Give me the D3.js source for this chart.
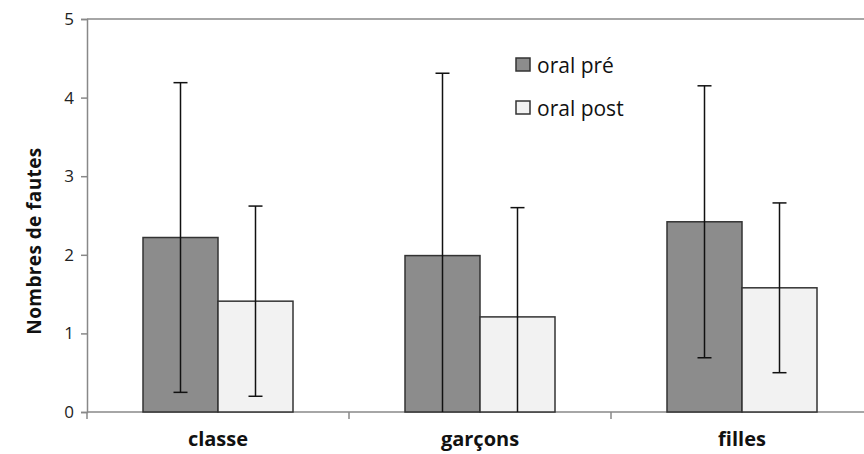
<!DOCTYPE html>
<html>
<head>
<meta charset="utf-8">
<script src="https://cdn.jsdelivr.net/npm/d3@7"></script>
<style>
  body { margin: 0; background: #fff; }
  svg { display: block; font-family: "Open Sans", sans-serif; }
</style>
</head>
<body>
<svg id="chart" width="864" height="454"></svg>
<script>
const categories = ["classe", "garçons", "filles"];
const seriesNames = ["oral pré", "oral post"];
const preValues = [2.22, 1.99, 2.42];
const postValues = [1.41, 1.21, 1.58];
const preErrors = [1.97, 2.32, 1.73];
const postErrors = [1.21, 1.39, 1.08];
const yTicks = [0, 1, 2, 3, 4, 5];

const colors = ["#8c8c8c", "#f2f2f2"];

const margin = { top: 19, left: 87 };
const plotW = 786, plotH = 393;

const svg = d3.select("#chart");
const g = svg.append("g").attr("transform", `translate(${margin.left},${margin.top})`);

const x = d3.scaleBand().domain(categories).range([0, plotW]);
const y = d3.scaleLinear().domain([0, 5]).range([plotH, 0]);
const barW = 75;

// frame top line
g.append("line")
  .attr("x1", 0).attr("x2", plotW).attr("y1", 0).attr("y2", 0)
  .attr("stroke", "#888").attr("stroke-width", 1.5);

// y axis
const yAxis = g.append("g")
  .call(d3.axisLeft(y).tickValues(yTicks).tickFormat(d3.format("d")).tickSize(6).tickPadding(7));
yAxis.select(".domain").attr("stroke", "#888").attr("stroke-width", 1.5);
yAxis.selectAll(".tick line").attr("stroke", "#888").attr("stroke-width", 1.5);
yAxis.selectAll(".tick text").attr("font-size", 17).attr("fill", "#222")
  .attr("font-family", "Open Sans, sans-serif");

// x axis with ticks at category boundaries
const xAxis = g.append("g").attr("transform", `translate(0,${plotH})`);
xAxis.append("line").attr("x1", 0).attr("x2", plotW)
  .attr("stroke", "#888").attr("stroke-width", 1.5);
xAxis.selectAll(".bound").data(categories).enter().append("line")
  .attr("x1", d => x(d)).attr("x2", d => x(d))
  .attr("y1", 0).attr("y2", 7)
  .attr("stroke", "#888").attr("stroke-width", 1.5);
xAxis.selectAll(".lbl").data(categories).enter().append("text")
  .attr("x", d => x(d) + x.bandwidth() / 2)
  .attr("y", 34)
  .attr("text-anchor", "middle")
  .attr("font-size", 20).attr("font-weight", "bold").attr("fill", "#111")
  .text(d => d);

// bars
const series = [
  { name: seriesNames[0], values: preValues, errors: preErrors, offset: -barW },
  { name: seriesNames[1], values: postValues, errors: postErrors, offset: 0 }
];

series.forEach((s, si) => {
  const rows = categories.map((c, i) => ({ c, v: s.values[i], e: s.errors[i] }));
  g.selectAll(".bar" + si).data(rows).enter().append("rect")
    .attr("x", d => x(d.c) + x.bandwidth() / 2 + s.offset)
    .attr("y", d => y(d.v))
    .attr("width", barW)
    .attr("height", d => plotH - y(d.v))
    .attr("fill", colors[si])
    .attr("stroke", "#333").attr("stroke-width", 1.5);

  // error bars
  rows.forEach(d => {
    const cx = x(d.c) + x.bandwidth() / 2 + s.offset + barW / 2;
    const hi = d.v + d.e, lo = d.v - d.e;
    g.append("line")
      .attr("x1", cx).attr("x2", cx)
      .attr("y1", y(hi)).attr("y2", y(Math.max(lo, 0)))
      .attr("stroke", "#111").attr("stroke-width", 1.5);
    g.append("line")
      .attr("x1", cx - 7).attr("x2", cx + 7)
      .attr("y1", y(hi)).attr("y2", y(hi))
      .attr("stroke", "#111").attr("stroke-width", 1.5);
    if (lo > 0) {
      g.append("line")
        .attr("x1", cx - 7).attr("x2", cx + 7)
        .attr("y1", y(lo)).attr("y2", y(lo))
        .attr("stroke", "#111").attr("stroke-width", 1.5);
    }
  });
});

// y title
svg.append("text")
  .attr("transform", "translate(41,241) rotate(-90)")
  .attr("text-anchor", "middle")
  .attr("font-size", 19).attr("font-weight", "bold").attr("fill", "#111")
  .attr("letter-spacing", 0.4)
  .text("Nombres de fautes");

// legend
const legend = svg.append("g").attr("transform", "translate(516,58)");
seriesNames.forEach((name, i) => {
  const row = legend.append("g").attr("transform", `translate(0,${i * 43})`);
  row.append("rect").attr("width", 14).attr("height", 13)
    .attr("fill", colors[i]).attr("stroke", "#333").attr("stroke-width", 1.5);
  row.append("text").attr("x", 21).attr("y", 15)
    .attr("font-size", 21).attr("fill", "#111").text(name);
});
</script>
</body>
</html>
